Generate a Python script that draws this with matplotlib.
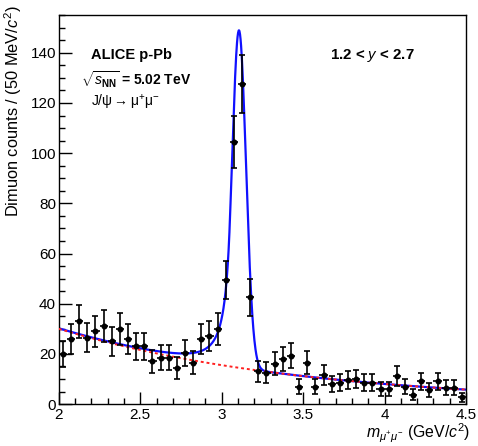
import numpy as np
import matplotlib
matplotlib.use("Agg")
import matplotlib.pyplot as plt

plt.rcParams['font.family'] = ['Liberation Sans', 'DejaVu Sans']
plt.rcParams['mathtext.fontset'] = 'custom'
plt.rcParams['mathtext.rm'] = 'Liberation Sans'
plt.rcParams['mathtext.it'] = 'Liberation Sans:italic'
plt.rcParams['mathtext.bf'] = 'Liberation Sans:bold'
plt.rcParams['mathtext.sf'] = 'Liberation Sans'

# ---- data ----
mass = [2.025, 2.075, 2.125, 2.175, 2.225, 2.275, 2.325, 2.375, 2.425, 2.475,
        2.525, 2.575, 2.625, 2.675, 2.725, 2.775, 2.825, 2.875, 2.925, 2.975,
        3.025, 3.075, 3.125, 3.175, 3.225, 3.275, 3.325, 3.375, 3.425, 3.475,
        3.525, 3.575, 3.625, 3.675, 3.725, 3.775, 3.825, 3.875, 3.925, 3.975,
        4.025, 4.075, 4.125, 4.175, 4.225, 4.275, 4.325, 4.375, 4.425, 4.475]
counts = [20, 26, 33, 26.5, 29, 31, 25, 30, 26, 23,
          23, 17, 18.5, 18.5, 14.5, 20.5, 16.5, 26, 27, 30,
          49.5, 104.5, 127.5, 42.5, 13, 12.5, 16, 18, 19.3, 7,
          16.5, 7, 11.5, 8, 8.5, 9.5, 10, 8.5, 8.5, 6,
          6, 11.3, 7, 3.7, 9, 5.7, 9, 6.6, 6.6, 2.7]
errors = [5.1, 5.9, 6.6, 5.9, 6.2, 6.4, 5.7, 6.3, 5.9, 5.5,
          5.5, 4.7, 4.9, 4.9, 4.4, 5.2, 4.7, 5.9, 6.0, 6.3,
          7.5, 10.5, 11.6, 7.2, 4.1, 4.1, 4.6, 4.9, 5.1, 3.0,
          4.7, 3.0, 3.9, 3.3, 3.4, 3.5, 3.6, 3.4, 3.4, 2.8,
          2.8, 3.9, 3.0, 2.2, 3.5, 2.7, 3.5, 3.0, 3.0, 1.9]
bin_half_width = 0.025

# fit parameters
bkg_norm, bkg_slope = 30.0, 0.66          # exponential background, x0 = 2
sig_amp, sig_mean, sig_sigma = 134.5, 3.106, 0.043
cb_alpha, cb_n = 1.3, 2.0

def background(x):
    return bkg_norm * np.exp(-bkg_slope * (x - 2.0))

def crystal_ball(x):
    t = (x - sig_mean) / sig_sigma
    A = (cb_n / cb_alpha) ** cb_n * np.exp(-cb_alpha ** 2 / 2)
    B = cb_n / cb_alpha - cb_alpha
    out = np.exp(-t ** 2 / 2)
    tail = t < -cb_alpha
    out[tail] = A * (B - t[tail]) ** (-cb_n)
    return sig_amp * out

fig = plt.figure(figsize=(4.78, 4.46), dpi=100)
ax = fig.add_axes([0.123, 0.094, 0.852, 0.872])

xs = np.linspace(2.0, 4.5, 1500)
ax.plot(xs, background(xs) + crystal_ball(xs), color='#1010ff', lw=1.6, zorder=2)
ax.plot(xs, background(xs), color='#ff2020', lw=1.4, ls=(0, (1.5, 1.5)), zorder=3)

ax.errorbar(mass, counts, yerr=errors, fmt='none', ecolor='black',
            elinewidth=1.2, capsize=2.0, capthick=1.2, zorder=4)
ax.errorbar(mass, counts, xerr=bin_half_width, fmt='o', color='black',
            ms=3.3, elinewidth=1.2, capsize=0, zorder=5)

ax.set_xlim(2.0, 4.5)
ax.set_ylim(0, 155)
ax.set_xticks([2, 2.5, 3, 3.5, 4, 4.5])
ax.set_xticklabels(['2', '2.5', '3', '3.5', '4', '4.5'])
ax.set_xticks(np.arange(2.0, 4.51, 0.1), minor=True)
ax.set_yticks(np.arange(0, 141, 20))
ax.set_yticks(np.arange(0, 156, 5), minor=True)
ax.tick_params(axis='both', which='major', direction='in', length=9, width=1.0,
               labelsize=11, top=False, right=False)
ax.tick_params(axis='both', which='minor', direction='in', length=4.5, width=1.0,
               top=False, right=False)
ax.tick_params(axis='x', pad=3)
ax.tick_params(axis='y', pad=2)
for s in ax.spines.values():
    s.set_linewidth(1.0)

ax.set_ylabel(r'Dimuon counts / (50 MeV/$c^2$)', fontsize=11.8, loc='top')
ax.yaxis.set_label_coords(-0.085, 1.026)
ax.set_xlabel(r'$m_{\mu^{+}\mu^{-}}$ (GeV/$c^2$)', fontsize=11.4, loc='right')
ax.xaxis.set_label_coords(1.01, -0.045)

ax.text(0.08, 0.897, 'ALICE p-Pb', transform=ax.transAxes, fontsize=10.5,
        fontweight='bold', ha='left', va='center')
ax.text(0.054, 0.833, r'$\sqrt{s_{\mathbf{NN}}}$' + ' = 5.02 TeV', transform=ax.transAxes,
        fontsize=10, fontweight='bold', ha='left', va='center')
ax.text(0.08, 0.776, r'J/$\mathrm{\psi}\rightarrow\mathrm{\mu}^{+}\mathrm{\mu}^{-}$',
        transform=ax.transAxes, fontsize=10, ha='left', va='center')
ax.text(0.665, 0.897, r'1.2 < $y$ < 2.7', transform=ax.transAxes, fontsize=10.8,
        fontweight='bold', ha='left', va='center')

fig.savefig('out.png', dpi=100)
